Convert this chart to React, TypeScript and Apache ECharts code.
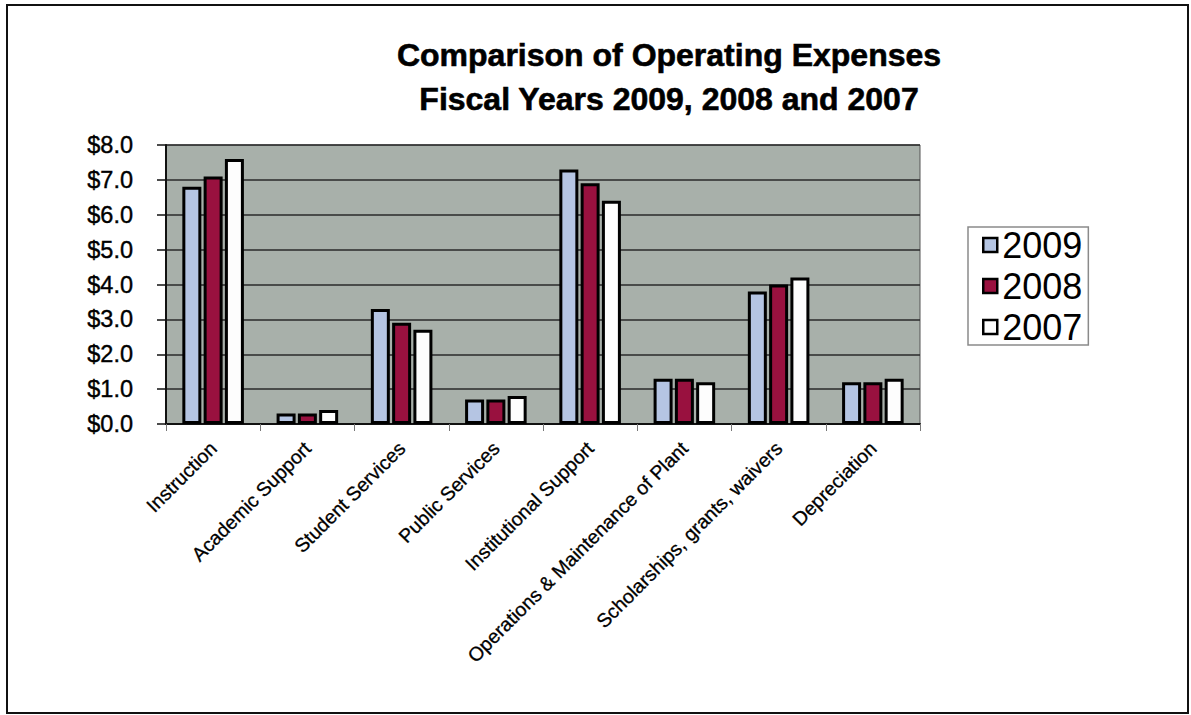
import React, { useEffect, useRef } from "react";
import * as echarts from "echarts";

const categories = [
  "Instruction",
  "Academic Support",
  "Student Services",
  "Public Services",
  "Institutional Support",
  "Operations & Maintenance of Plant",
  "Scholarships, grants, waivers",
  "Depreciation",
];
const values2009 = [6.8, 0.3, 3.3, 0.7, 7.3, 1.3, 3.8, 1.2];
const values2008 = [7.1, 0.3, 2.9, 0.7, 6.9, 1.3, 4.0, 1.2];
const values2007 = [7.6, 0.4, 2.7, 0.8, 6.4, 1.2, 4.2, 1.3];
const seriesNames = ["2009", "2008", "2007"];
const seriesColors = ["#b5c5e3", "#99113f", "#fdfdfd"];

const FONT = "'Liberation Sans', Arial, Helvetica, sans-serif";

export default function App() {
  const ref = useRef<HTMLDivElement>(null);
  useEffect(() => {
    if (!ref.current) return;
    const chart = echarts.init(ref.current, null, { renderer: "svg" });
    const seriesData = [values2009, values2008, values2007];
    chart.setOption({
      animation: false,
      backgroundColor: "#ffffff",
      textStyle: { fontFamily: FONT, color: "#000" },
      title: {
        text: "Comparison of Operating Expenses\nFiscal Years 2009, 2008 and 2007",
        left: 664,
        top: 28,
        textAlign: "center",
        textStyle: {
          fontFamily: FONT,
          fontSize: 32,
          fontWeight: "bold",
          lineHeight: 44,
          color: "#000",
          align: "center",
          textBorderColor: "#000",
          textBorderWidth: 0.6,
        },
      },
      legend: {
        orient: "vertical",
        left: 968,
        top: 227,
        padding: [0, 6, 0, 14],
        itemGap: 5,
        itemWidth: 14,
        itemHeight: 14,
        icon: "rect",
        borderColor: "#8a8a8a",
        borderWidth: 1.5,
        backgroundColor: "#fff",
        itemStyle: { borderColor: "#000", borderWidth: 2.5 },
        textStyle: { fontFamily: FONT, fontSize: 36, lineHeight: 36, color: "#000" },
        data: seriesNames,
      },
      grid: {
        left: 166,
        right: 271,
        top: 145,
        bottom: 291,
        show: true,
        backgroundColor: "#a8b0aa",
        borderColor: "#555",
        borderWidth: 1,
      },
      xAxis: {
        type: "category",
        data: categories,
        axisLine: { show: true, lineStyle: { color: "#111", width: 2 } },
        axisTick: { show: true, length: 7, lineStyle: { color: "#777", width: 1 } },
        axisLabel: {
          rotate: 45,
          interval: 0,
          margin: 21,
          fontFamily: FONT,
          fontSize: 19.5,
          color: "#000",
          textBorderColor: "#000",
          textBorderWidth: 0.3,
        },
      },
      yAxis: {
        type: "value",
        min: 0,
        max: 8,
        interval: 1,
        axisLine: { show: true, lineStyle: { color: "#111", width: 2 } },
        axisTick: { show: true, length: 9, lineStyle: { color: "#111", width: 1.5 } },
        axisLabel: {
          margin: 33,
          fontFamily: FONT,
          fontSize: 23.5,
          color: "#000",
          textBorderColor: "#000",
          textBorderWidth: 0.4,
          formatter: (v: number) => "$" + v.toFixed(1),
        },
        splitLine: { show: true, lineStyle: { color: "#2a2a2a", width: 1.5 } },
      },
      series: seriesNames.map((name, i) => ({
        name,
        type: "bar",
        data: seriesData[i],
        barWidth: 19,
        barGap: "12%",
        itemStyle: {
          color: seriesColors[i],
          borderColor: "#000",
          borderWidth: 3,
        },
      })),
      graphic: [
        {
          type: "rect",
          shape: { x: 7, y: 5, width: 1181, height: 708 },
          style: { fill: "none", stroke: "#111", lineWidth: 2 },
          silent: true,
        },
      ],
    });
    return () => chart.dispose();
  }, []);
  return (
    <div
      ref={ref}
      style={{ position: "absolute", left: 0, top: 0, width: 1191, height: 715 }}
    />
  );
}
